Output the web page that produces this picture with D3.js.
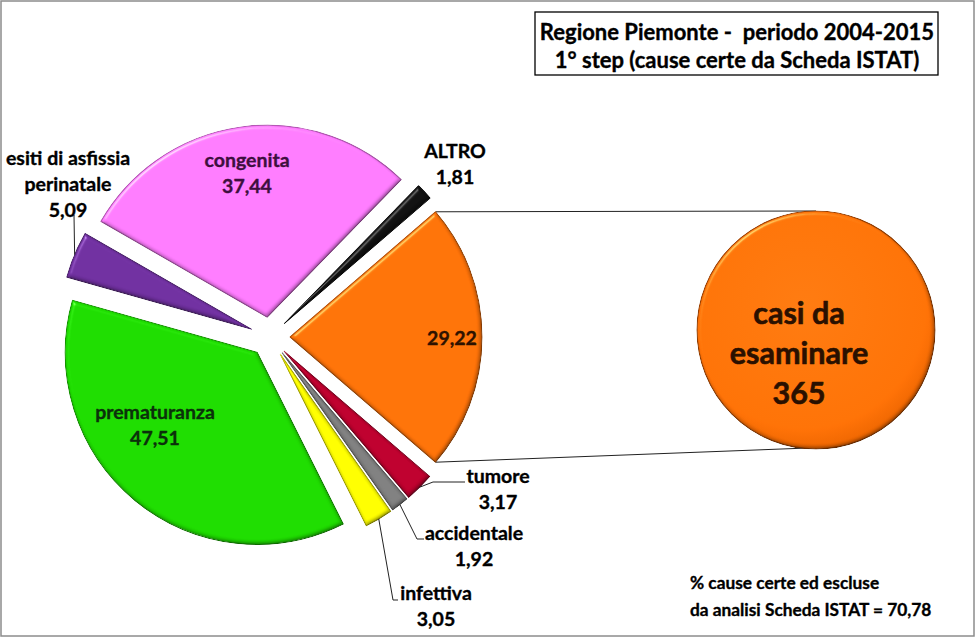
<!DOCTYPE html>
<html>
<head>
<meta charset="utf-8">
<script src="https://cdn.jsdelivr.net/npm/d3@7"></script>
<style>
  html, body { margin: 0; padding: 0; background: #fff; }
  svg { display: block; }
  text { font-family: Lato, "Open Sans", sans-serif; font-weight: bold; white-space: pre; stroke-width: 0.35px; stroke-linejoin: round; }
</style>
</head>
<body>
<svg id="chart" width="977" height="638"></svg>
<script>
// ---------------- DATA ----------------
const categories = ["casi da esaminare", "tumore", "accidentale", "infettiva", "prematuranza", "esiti di asfissia perinatale", "congenita", "ALTRO"];
const values = [29.22, 3.17, 1.92, 3.05, 47.51, 5.09, 37.44, 1.81];
const labelNames = [[], ["tumore"], ["accidentale"], ["infettiva"], ["prematuranza"], ["esiti di asfissia", "perinatale"], ["congenita"], ["ALTRO"]];
const secondaryValues = [365];
const secondaryLabel = ["casi da", "esaminare"];
const titleLines = ["Regione Piemonte -  periodo 2004-2015", "1° step (cause certe da Scheda ISTAT)"];
const noteLines = ["% cause certe ed escluse", "da analisi Scheda ISTAT = 70,78"];

// ---------------- STYLE / LAYOUT ----------------
const colors = ["#FF7308", "#BE002E", "#808080", "#FFFF00", "#1EDC00", "#7030A0", "#FF7CFF", "#111111"];
const labelColors = ["#2e1200", "#000", "#000", "#000", "#0b300b", "#000", "#3e0f3e", "#000"];
const labelPos = [[452, 338], [498, 476], [474, 533], [436, 593], [155, 412], [68, 158], [247, 160], [455, 151]];
const leaders = [null, [[433, 482], [465, 482]], [[417, 539], [424, 539]], [[393, 600], [398, 600]], null, [[74, 215]], null, null];

const W = 977, H = 638;
const cx = 270, cy = 337, R = 192, explode = 20;
const cx2 = 816, cy2 = 330, R2 = 119;
const lineH = 26;

const svg = d3.select("#chart");
const defs = svg.append("defs");

// bevel filter (sRGB so colours stay saturated)
const f = defs.append("filter").attr("id", "bevel").attr("x", "-10%").attr("y", "-10%").attr("width", "120%").attr("height", "120%")
  .attr("color-interpolation-filters", "sRGB");
f.append("feGaussianBlur").attr("in", "SourceAlpha").attr("stdDeviation", 2).attr("result", "blur");
const spec = f.append("feSpecularLighting").attr("in", "blur").attr("surfaceScale", 3).attr("specularConstant", 0.45)
  .attr("specularExponent", 40).attr("lighting-color", "#ffffff").attr("result", "spec");
spec.append("feDistantLight").attr("azimuth", 235).attr("elevation", 40);
f.append("feComposite").attr("in", "spec").attr("in2", "SourceAlpha").attr("operator", "in").attr("result", "specOut");
const dif = f.append("feDiffuseLighting").attr("in", "blur").attr("surfaceScale", 3).attr("diffuseConstant", 1.15)
  .attr("lighting-color", "#ffffff").attr("result", "dif");
dif.append("feDistantLight").attr("azimuth", 235).attr("elevation", 60);
f.append("feComposite").attr("in", "SourceGraphic").attr("in2", "dif").attr("operator", "arithmetic")
  .attr("k1", 0.5).attr("k2", 0.5).attr("k3", 0).attr("k4", 0).attr("result", "shaded");
f.append("feComposite").attr("in", "shaded").attr("in2", "SourceAlpha").attr("operator", "in").attr("result", "shaded2");
f.append("feComposite").attr("in", "shaded2").attr("in2", "specOut").attr("operator", "arithmetic")
  .attr("k1", 0).attr("k2", 1).attr("k3", 0.8).attr("k4", 0);

// outer border
svg.append("rect").attr("x", 1).attr("y", 1).attr("width", W - 4).attr("height", H - 3)
  .attr("fill", "#fff").attr("stroke", "#8c8c8c").attr("stroke-width", 1.5);

// ---------------- MAIN PIE ----------------
const total = d3.sum(values);
const a0 = Math.PI / 2 - Math.PI * values[0] / total;
const pie = d3.pie().sort(null).value(d => d).startAngle(a0).endAngle(a0 + 2 * Math.PI);
const arcs = pie(values);
const arc = d3.arc().innerRadius(0).outerRadius(R);
const fmt = d3.formatLocale({decimal: ",", thousands: ".", grouping: [3], currency: ["", "€"]}).format(".2f");

function offset(d) {
  const m = (d.startAngle + d.endAngle) / 2;
  return [cx + explode * Math.sin(m), cy - explode * Math.cos(m)];
}
function polar(c, a, r) { return [c[0] + r * Math.sin(a), c[1] - r * Math.cos(a)]; }

// connector lines to the secondary circle
const o = arcs[0], oc = offset(o);
const pTop = polar(oc, o.startAngle, R), pBot = polar(oc, o.endAngle, R);
svg.append("line").attr("x1", pTop[0]).attr("y1", pTop[1]).attr("x2", cx2).attr("y2", cy2 - R2)
  .attr("stroke", "#222").attr("stroke-width", 1);
svg.append("line").attr("x1", pBot[0]).attr("y1", pBot[1]).attr("x2", cx2 - 8).attr("y2", cy2 + R2 - 1)
  .attr("stroke", "#222").attr("stroke-width", 1);

const slices = svg.append("g");
slices.selectAll("path").data(arcs).join("path")
  .attr("transform", d => `translate(${offset(d)})`)
  .attr("d", arc)
  .attr("fill", (d, i) => colors[i])
  .attr("stroke", (d, i) => d3.color(colors[i]).darker(1))
  .attr("stroke-width", 1.2)
  .attr("stroke-linejoin", "round")
  .attr("filter", "url(#bevel)");

// leader lines
arcs.forEach((d, i) => {
  if (!leaders[i]) return;
  const m = (d.startAngle + d.endAngle) / 2;
  const start = polar(offset(d), m, R);
  const pts = [start].concat(leaders[i]);
  svg.append("path").attr("d", d3.line()(pts)).attr("fill", "none").attr("stroke", "#222").attr("stroke-width", 1);
});

// labels
const labels = svg.append("g");
arcs.forEach((d, i) => {
  const lines = labelNames[i].concat([fmt(values[i])]);
  const t = labels.append("text").attr("text-anchor", "middle").attr("fill", labelColors[i])
    .attr("stroke", labelColors[i]).style("font-size", "19.5px");
  lines.forEach((s, k) => {
    t.append("tspan").attr("x", labelPos[i][0]).attr("y", labelPos[i][1] + k * lineH + 7).text(s);
  });
});

// ---------------- SECONDARY CIRCLE ----------------
const grad = defs.append("radialGradient").attr("id", "og").attr("cx", "45%").attr("cy", "40%").attr("r", "60%");
grad.append("stop").attr("offset", "0%").attr("stop-color", "#FF7A10");
grad.append("stop").attr("offset", "85%").attr("stop-color", "#FF7206");
grad.append("stop").attr("offset", "100%").attr("stop-color", "#EE6600");
const pie2 = d3.pie().sort(null);
const arc2 = d3.arc().innerRadius(0).outerRadius(R2);
svg.append("g").attr("transform", `translate(${cx2},${cy2})`)
  .selectAll("path").data(pie2(secondaryValues)).join("path")
  .attr("d", arc2).attr("fill", "url(#og)").attr("stroke", "#9a4000").attr("stroke-width", 1.2)
  .attr("filter", "url(#bevel)");
const t2 = svg.append("text").attr("text-anchor", "middle").attr("fill", "#2a1000").attr("stroke", "#2a1000")
  .style("stroke-width", "0.6px").style("font-size", "30.5px");
secondaryLabel.concat([String(secondaryValues[0])]).forEach((s, k) => {
  t2.append("tspan").attr("x", 799).attr("y", 313 + k * 40 + 11).text(s);
});

// ---------------- TITLE ----------------
svg.append("rect").attr("x", 535).attr("y", 12).attr("width", 403).attr("height", 63)
  .attr("fill", "#fff").attr("stroke", "#000").attr("stroke-width", 1.3);
titleLines.forEach((s, k) => {
  svg.append("text").attr("x", 737).attr("y", 32 + k * 28 + 8).attr("text-anchor", "middle")
    .attr("fill", "#000").attr("stroke", "#000").style("font-size", "22px").text(s);
});

// ---------------- NOTE ----------------
noteLines.forEach((s, k) => {
  svg.append("text").attr("x", 690).attr("y", 583 + k * 27 + 6).attr("text-anchor", "start")
    .attr("fill", "#000").attr("stroke", "#000").style("font-size", "17.3px").text(s);
});
</script>
</body>
</html>
